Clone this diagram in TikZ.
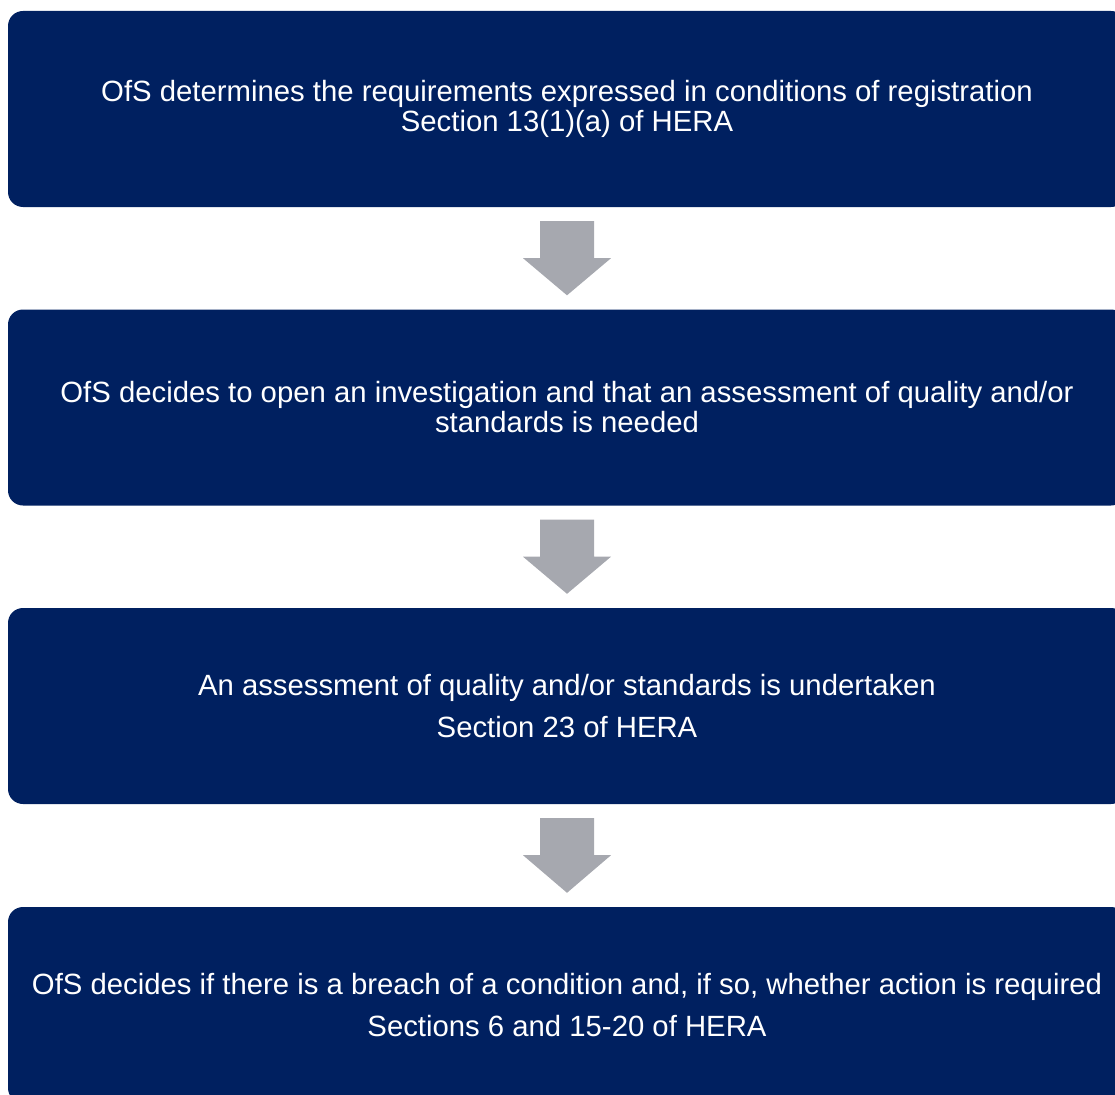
\documentclass[tikz,border=0pt]{standalone}
\usepackage{fontspec}
\setmainfont{Liberation Sans}
\usetikzlibrary{calc}
\definecolor{boxblue}{RGB}{0,32,96}
\definecolor{arrowgray}{RGB}{166,168,175}
\begin{document}
\begin{tikzpicture}[x=1pt,y=-1pt,
  stepbox/.style={fill=boxblue, draw=none, rounded corners=15pt, minimum width=1118pt, minimum height=196pt, text=white, align=center, inner sep=0pt, font=\fontsize{29.3}{30}\selectfont},
  downarrow/.style={fill=arrowgray, draw=none}]
\useasboundingbox (0,0) rectangle (1115,1094);
\clip (0,0) rectangle (1115,1094);
\node[stepbox] (b1) at (567,109) {OfS determines the requirements expressed in conditions of registration\\Section 13(1)(a) of HERA};
\node[stepbox] (b2) at (567,407.5) {OfS decides to open an investigation and that an assessment of quality and/or\\standards is needed};
\node[stepbox] (b3) at (567,706) {An assessment of quality and/or standards is undertaken\\[12pt]Section 23 of HERA};
\node[stepbox] (b4) at (567,1005) {OfS decides if there is a breach of a condition and, if so, whether action is required\\[12pt]Sections 6 and 15-20 of HERA};
\foreach \a/\b in {b1/b2, b2/b3, b3/b4}{
  \path (\a.south) ++(0,14) coordinate (t) (\b.north) ++(0,-14) coordinate (h);
  \fill[downarrow] ($(t)+(-27,0)$) -- ($(t)+(27,0)$) -- ($(t)+(27,37)$) -- ($(t)+(44,37)$) -- (h) -- ($(t)+(-44,37)$) -- ($(t)+(-27,37)$) -- cycle;
}
\end{tikzpicture}
\end{document}
